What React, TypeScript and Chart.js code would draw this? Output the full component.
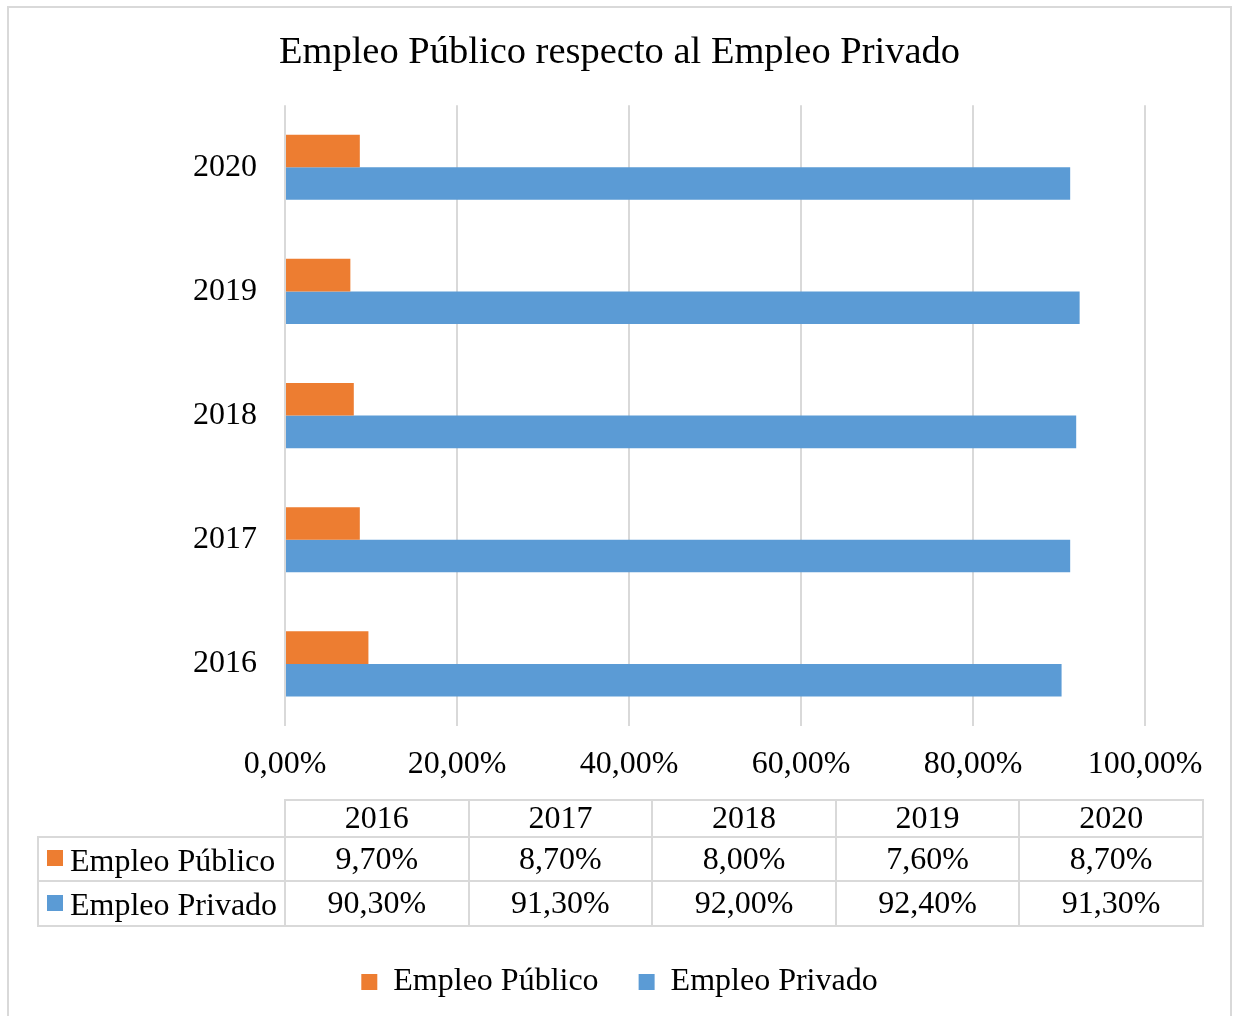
import React, { useEffect, useRef } from 'react';
import { Chart, registerables } from 'chart.js';

Chart.register(...registerables);

const TITLE = 'Empleo Público respecto al Empleo Privado';
const categories = ['2016', '2017', '2018', '2019', '2020'];
const seriesNames = ['Empleo Público', 'Empleo Privado'];
const publico = [9.7, 8.7, 8.0, 7.6, 8.7];
const privado = [90.3, 91.3, 92.0, 92.4, 91.3];
const xTicks = [0, 20, 40, 60, 80, 100];
const colors = ['#ED7D31', '#5B9BD5'];

const FONT = "'Liberation Serif', 'Times New Roman', serif";
const fmt = (v: number) => v.toFixed(2).replace('.', ',') + '%';

const seriesValues = [publico, privado];

export default function App() {
  const ref = useRef<HTMLCanvasElement | null>(null);

  useEffect(() => {
    document.body.style.overflow = 'hidden';
    const canvas = ref.current;
    if (!canvas) return;
    const tickFont = { family: FONT, size: 32, weight: 'normal' as const };
    const chart = new Chart(canvas, {
      type: 'bar',
      data: {
        labels: categories,
        datasets: seriesNames.map((name, i) => ({
          label: name,
          data: seriesValues[i],
          backgroundColor: colors[i],
          borderWidth: 0,
          categoryPercentage: 0.525,
          barPercentage: 1,
        })),
      },
      options: {
        indexAxis: 'y',
        animation: false,
        responsive: false,
        layout: { padding: { left: 0, right: 0, top: 0, bottom: 8 } },
        plugins: {
          title: {
            display: true,
            text: TITLE,
            color: '#000',
            font: { family: FONT, size: 38.5, weight: 'normal', lineHeight: 1.2 },
            padding: { top: 22, bottom: 29 },
          },
          legend: {
            position: 'bottom',
            labels: {
              color: '#000',
              font: { family: FONT, size: 32, weight: 'normal' },
              boxWidth: 16,
              boxHeight: 16,
              padding: 40,
            },
          },
          tooltip: { enabled: false },
        },
        scales: {
          x: {
            type: 'linear',
            min: 0,
            max: 100,
            afterBuildTicks: (scale: any) => {
              scale.ticks = xTicks.map((v) => ({ value: v }));
            },
            ticks: {
              callback: (v: any) => fmt(Number(v)),
              font: tickFont,
              color: '#000',
              padding: 19,
              maxRotation: 0,
              autoSkip: false,
            },
            grid: { color: '#d9d9d9', lineWidth: 2, drawTicks: false },
            border: { display: false },
            afterFit: (s: any) => {
              s.height = 200;
              s.paddingRight = 85;
            },
          },
          y: {
            reverse: true,
            ticks: { font: tickFont, color: '#000', padding: 28 },
            grid: { display: false, drawTicks: false },
            border: { display: false },
            afterFit: (s: any) => {
              s.width = 276;
            },
          },
        },
      },
    });
    return () => chart.destroy();
  }, []);

  const cell: React.CSSProperties = {
    border: '2px solid #d9d9d9',
    textAlign: 'center',
    padding: '0 0 3px 0',
    lineHeight: '1',
    verticalAlign: 'middle',
    whiteSpace: 'nowrap',
  };
  const leftCell: React.CSSProperties = { ...cell, textAlign: 'left', paddingLeft: 8 };
  const rowHeights = [44, 45];

  return (
    <div>
      <div
        style={{
          position: 'absolute',
          left: 7,
          top: 6,
          width: 1225,
          height: 1040,
          boxSizing: 'border-box',
          border: '2px solid #d9d9d9',
          background: '#fff',
        }}
      />
      <canvas
        ref={ref}
        width={1221}
        height={1008}
        style={{ position: 'absolute', left: 9, top: 8, width: 1221, height: 1008 }}
      />
      <table
        style={{
          position: 'absolute',
          left: 37,
          top: 799,
          width: 1165,
          borderCollapse: 'collapse',
          tableLayout: 'fixed',
          fontFamily: FONT,
          fontSize: 32,
          color: '#000',
        }}
      >
        <colgroup>
          <col style={{ width: 247 }} />
          {categories.map((c) => (
            <col key={c} style={{ width: 183.6 }} />
          ))}
        </colgroup>
        <tbody>
          <tr style={{ height: 36 }}>
            <td style={{ padding: 0, border: 'none' }} />
            {categories.map((c) => (
              <td key={c} style={cell}>
                {c}
              </td>
            ))}
          </tr>
          {seriesNames.map((name, i) => (
            <tr key={name} style={{ height: rowHeights[i] }}>
              <td style={leftCell}>
                <span
                  style={{
                    display: 'inline-block',
                    width: 16,
                    height: 16,
                    background: colors[i],
                    marginRight: 7,
                    verticalAlign: 'middle',
                    position: 'relative',
                    top: -1,
                  }}
                />
                <span style={{ verticalAlign: 'middle' }}>{name}</span>
              </td>
              {seriesValues[i].map((v, j) => (
                <td key={j} style={cell}>
                  {fmt(v)}
                </td>
              ))}
            </tr>
          ))}
        </tbody>
      </table>
    </div>
  );
}
